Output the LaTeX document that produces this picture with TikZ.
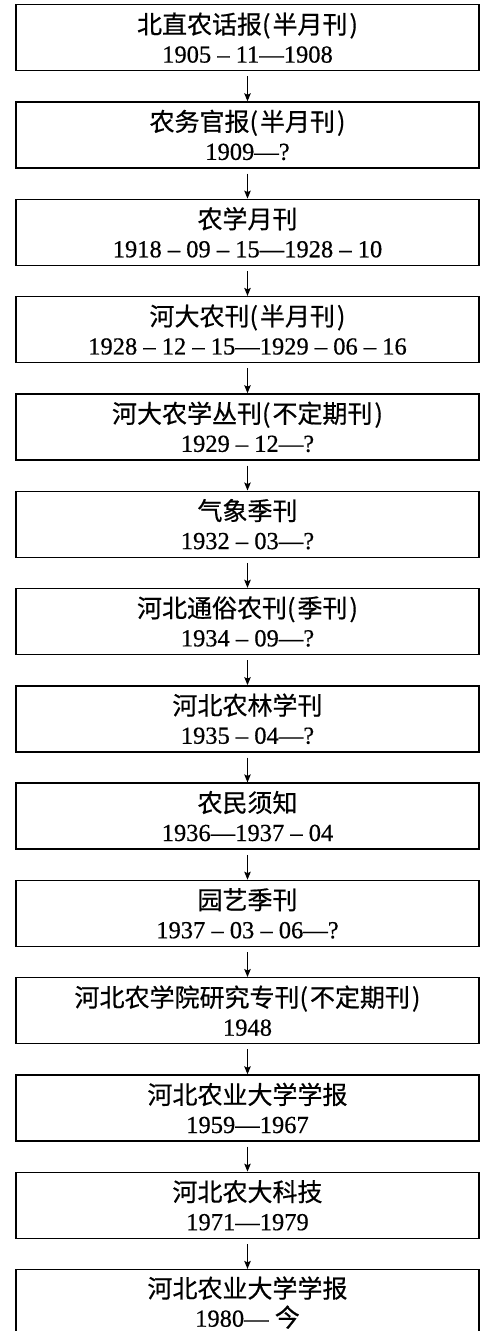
\documentclass[tikz,border=0pt]{standalone}
\usepackage{fontspec}
\setmainfont{Liberation Serif}[FakeBold=0.5]
\newfontfamily\cjk{Noto Sans CJK SC}[FakeBold=0.6]
\usetikzlibrary{arrows.meta}
\newcommand{\zh}[1]{{\cjk\fontsize{25}{29}\selectfont #1}}
\newcommand{\lp}{(\kern2pt}
\newcommand{\rp}{\kern2pt)}
\begin{document}
\begin{tikzpicture}[x=1pt,y=-1pt,
  box/.style={draw=black, line width=1.4pt, minimum width=463pt, minimum height=66pt,
    inner sep=0pt, align=center, anchor=north, text=black,
    font=\fontsize{24.5}{29}\selectfont},
  arr/.style={draw=black, line width=1.1pt, -{Stealth[length=8pt,width=6.5pt,inset=1.5pt]}}]
\useasboundingbox (0,0) rectangle (480,1331);
\node[box] (n1)  at (247.5,4)      {\zh{北直农话报\lp 半月刊\rp}\\1905 – 11—1908};
\node[box] (n2)  at (247.5,101.3)  {\zh{农务官报\lp 半月刊\rp}\\1909—?};
\node[box] (n3)  at (247.5,198.6)  {\zh{农学月刊}\\1918 – 09 – 15—1928 – 10};
\node[box] (n4)  at (247.5,295.9)  {\zh{河大农刊\lp 半月刊\rp}\\1928 – 12 – 15—1929 – 06 – 16};
\node[box] (n5)  at (247.5,393.2)  {\zh{河大农学丛刊\lp 不定期刊\rp}\\1929 – 12—?};
\node[box] (n6)  at (247.5,490.5)  {\zh{气象季刊}\\1932 – 03—?};
\node[box] (n7)  at (247.5,587.8)  {\zh{河北通俗农刊\lp 季刊\rp}\\1934 – 09—?};
\node[box] (n8)  at (247.5,685.1)  {\zh{河北农林学刊}\\1935 – 04—?};
\node[box] (n9)  at (247.5,782.4)  {\zh{农民须知}\\1936—1937 – 04};
\node[box] (n10) at (247.5,879.7)  {\zh{园艺季刊}\\1937 – 03 – 06—?};
\node[box] (n11) at (247.5,977.0)  {\zh{河北农学院研究专刊\lp 不定期刊\rp}\\1948};
\node[box] (n12) at (247.5,1074.3) {\zh{河北农业大学学报}\\1959—1967};
\node[box] (n13) at (247.5,1171.6) {\zh{河北农大科技}\\1971—1979};
\node[box] (n14) at (247.5,1268.9) {\zh{河北农业大学学报}\\1980— \zh{今}};
\foreach \a/\b in {n1/n2,n2/n3,n3/n4,n4/n5,n5/n6,n6/n7,n7/n8,n8/n9,n9/n10,n10/n11,n11/n12,n12/n13,n13/n14}
  \draw[arr] ([yshift=-5pt]\a.south) -- (\b.north);
\end{tikzpicture}
\end{document}
